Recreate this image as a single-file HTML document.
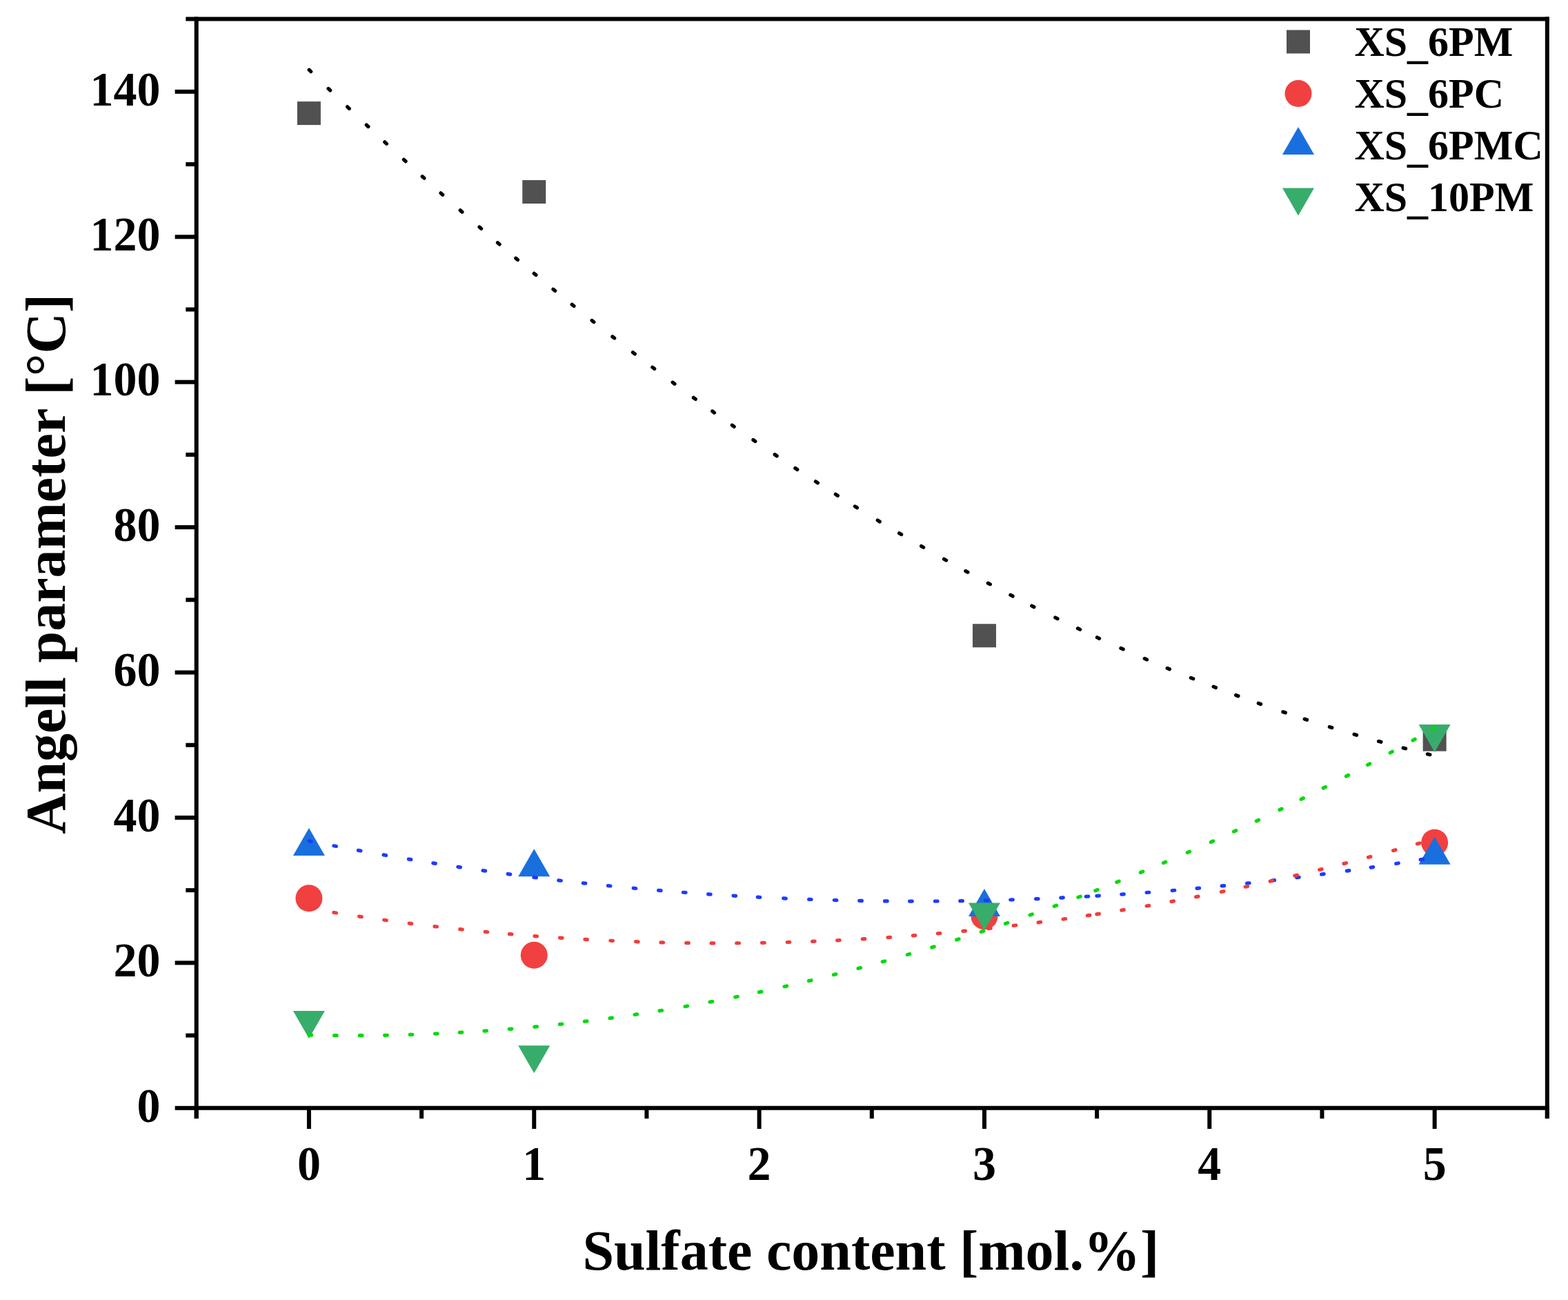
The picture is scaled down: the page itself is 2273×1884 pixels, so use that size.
<!DOCTYPE html>
<html><head><meta charset="utf-8"><title>Angell parameter vs sulfate content</title>
<style>html,body{margin:0;padding:0;background:#fff;overflow:hidden;}svg{display:block;}</style>
</head><body>
<svg width="2273" height="1884" viewBox="0 0 2273 1884">
<rect width="2273" height="1884" fill="#fff"/>
<rect x="430.90" y="147.11" width="34" height="34" fill="#515151"/>
<rect x="757.25" y="261.05" width="34" height="34" fill="#515151"/>
<rect x="1409.95" y="904.20" width="34" height="34" fill="#515151"/>
<rect x="2062.65" y="1054.65" width="34" height="34" fill="#515151"/>
<circle cx="447.90" cy="1301.85" r="19.5" fill="#F14040"/>
<circle cx="774.25" cy="1384.23" r="19.5" fill="#F14040"/>
<circle cx="1426.95" cy="1327.73" r="19.5" fill="#F14040"/>
<circle cx="2079.65" cy="1221.15" r="19.5" fill="#F14040"/>
<polygon points="447.90,1199.96 470.90,1239.96 424.90,1239.96" fill="#1A6FDF"/>
<polygon points="774.25,1230.15 797.25,1270.15 751.25,1270.15" fill="#1A6FDF"/>
<polygon points="1426.95,1288.12 1449.95,1328.12 1403.95,1328.12" fill="#1A6FDF"/>
<polygon points="2079.65,1212.79 2102.65,1252.79 2056.65,1252.79" fill="#1A6FDF"/>
<polygon points="424.90,1465.06 470.90,1465.06 447.90,1505.06" fill="#37AD6B"/>
<polygon points="751.25,1515.35 797.25,1515.35 774.25,1555.35" fill="#37AD6B"/>
<polygon points="1403.95,1308.50 1449.95,1308.50 1426.95,1348.50" fill="#37AD6B"/>
<polygon points="2056.65,1049.90 2102.65,1049.90 2079.65,1089.90" fill="#37AD6B"/>
<path d="M447.90,101.01 Q1263.78,899.69 2079.65,1095.31" fill="none" stroke="#000000" stroke-width="5.2" stroke-linecap="round" stroke-dasharray="3.60 35.31 3.60 34.65 3.60 34.41 3.60 32.81 3.60 33.95 3.60 32.64 3.60 32.42 3.60 34.06 3.60 33.30 3.60 31.23 3.60 31.02 3.60 30.82 3.60 32.43 3.60 31.43 3.60 33.52 3.60 34.17 3.60 33.80 3.60 32.06 3.60 32.96 3.60 33.96 3.60 29.91 3.60 31.55 3.60 33.64 3.60 34.24 3.60 32.02 3.60 31.68 3.60 30.82 3.60 29.44 3.60 34.98 3.60 32.87 3.60 33.45 3.60 34.36 3.60 32.18 3.60 33.22 3.60 33.33 3.60 30.98 3.60 34.46 3.60 32.68 3.60 27.19 3.60 34.38 3.60 33.84 3.60 32.11 3.60 33.43 3.60 31.52 3.60 31.16 3.60 31.16 3.60 34.08 3.60 29.38 3.60 34.37 3.60 33.67 3.60 33.20 3.60 33.36 3.60 32.80 3.60 9999.00" stroke-dashoffset="-0.30"/>
<path d="M447.90,1218.78 Q1263.78,1380.66 2079.65,1242.40" fill="none" stroke="#1E3AFF" stroke-width="5.2" stroke-linecap="round" stroke-dasharray="3.60 33.27 3.60 32.51 3.60 33.68 3.60 33.12 3.60 32.36 3.60 32.92 3.60 32.98 3.60 32.84 3.60 34.41 3.60 32.56 3.60 32.12 3.60 32.70 3.60 33.37 3.60 32.94 3.60 32.41 3.60 32.59 3.60 32.97 3.60 31.65 3.60 33.94 3.60 33.23 3.60 33.12 3.60 32.91 3.60 33.20 3.60 32.50 3.60 33.20 3.60 32.80 3.60 33.21 3.60 32.51 3.60 33.22 3.60 32.63 3.60 32.85 3.60 12.13 3.60 32.37 3.60 32.89 3.60 33.62 3.60 32.34 3.60 32.67 3.60 33.00 3.60 33.03 3.60 32.36 3.60 32.70 3.60 33.44 3.60 31.61 3.60 33.38 3.60 32.26 3.60 9999.00" stroke-dashoffset="0.27"/>
<path d="M447.90,1316.62 Q1263.78,1453.98 2079.65,1215.61" fill="none" stroke="#F03C3C" stroke-width="5.2" stroke-linecap="round" stroke-dasharray="3.60 33.52 3.60 33.52 3.60 32.96 3.60 33.12 3.60 33.47 3.60 33.43 3.60 32.99 3.60 31.75 3.60 33.12 3.60 33.04 3.60 32.87 3.60 33.40 3.60 33.08 3.60 32.87 3.60 33.11 3.60 32.85 3.60 33.10 3.60 33.15 3.60 33.01 3.60 32.82 3.60 32.43 3.60 33.15 3.60 33.17 3.60 32.80 3.60 32.53 3.60 33.26 3.60 33.20 3.60 33.20 3.60 32.63 3.60 32.83 3.60 31.97 3.60 10.06 3.60 32.75 3.60 33.32 3.60 32.77 3.60 32.64 3.60 33.93 3.60 31.96 3.60 33.26 3.60 33.04 3.60 33.22 3.60 32.84 3.60 32.88 3.60 33.95 3.60 32.65 3.60 9999.00" stroke-dashoffset="0.73"/>
<path d="M447.90,1499.99 Q1263.78,1518.72 2079.65,1055.13" fill="none" stroke="#00DA0A" stroke-width="5.2" stroke-linecap="round" stroke-dasharray="3.60 32.90 3.60 33.20 3.60 32.80 3.60 32.91 3.60 32.73 3.60 32.15 3.60 32.17 3.60 32.81 3.60 33.25 3.60 32.99 3.60 32.64 3.60 33.40 3.60 32.76 3.60 32.83 3.60 34.02 3.60 32.99 3.60 33.69 3.60 31.84 3.60 33.98 3.60 32.65 3.60 33.48 3.60 33.18 3.60 32.99 3.60 33.84 3.60 33.34 3.60 34.00 3.60 33.93 3.60 33.28 3.60 34.27 3.60 33.84 3.60 33.36 3.60 23.09 3.60 29.85 3.60 33.66 3.60 32.20 3.60 34.43 3.60 33.73 3.60 32.80 3.60 32.74 3.60 33.58 3.60 31.19 3.60 32.47 3.60 33.65 3.60 31.57 3.60 33.56 3.60 33.86 3.60 30.25 3.60 9999.00" stroke-dashoffset="-0.10"/>
<g stroke="#000" stroke-width="6.0" stroke-linecap="butt"><line x1="269.32" y1="27.40" x2="2245.83" y2="27.40"/><line x1="284.72" y1="24.40" x2="284.72" y2="1621.10"/><line x1="2242.83" y1="24.40" x2="2242.83" y2="1621.10"/><line x1="281.72" y1="1605.80" x2="2245.83" y2="1605.80"/><line x1="253.62" y1="1605.80" x2="284.72" y2="1605.80"/><line x1="269.32" y1="1500.59" x2="284.72" y2="1500.59"/><line x1="253.62" y1="1395.38" x2="284.72" y2="1395.38"/><line x1="269.32" y1="1290.17" x2="284.72" y2="1290.17"/><line x1="253.62" y1="1184.96" x2="284.72" y2="1184.96"/><line x1="269.32" y1="1079.75" x2="284.72" y2="1079.75"/><line x1="253.62" y1="974.54" x2="284.72" y2="974.54"/><line x1="269.32" y1="869.33" x2="284.72" y2="869.33"/><line x1="253.62" y1="764.12" x2="284.72" y2="764.12"/><line x1="269.32" y1="658.91" x2="284.72" y2="658.91"/><line x1="253.62" y1="553.70" x2="284.72" y2="553.70"/><line x1="269.32" y1="448.49" x2="284.72" y2="448.49"/><line x1="253.62" y1="343.28" x2="284.72" y2="343.28"/><line x1="269.32" y1="238.07" x2="284.72" y2="238.07"/><line x1="253.62" y1="132.86" x2="284.72" y2="132.86"/><line x1="284.72" y1="1605.80" x2="284.72" y2="1621.10"/><line x1="447.90" y1="1605.80" x2="447.90" y2="1636.00"/><line x1="611.08" y1="1605.80" x2="611.08" y2="1621.10"/><line x1="774.25" y1="1605.80" x2="774.25" y2="1636.00"/><line x1="937.42" y1="1605.80" x2="937.42" y2="1621.10"/><line x1="1100.60" y1="1605.80" x2="1100.60" y2="1636.00"/><line x1="1263.78" y1="1605.80" x2="1263.78" y2="1621.10"/><line x1="1426.95" y1="1605.80" x2="1426.95" y2="1636.00"/><line x1="1590.12" y1="1605.80" x2="1590.12" y2="1621.10"/><line x1="1753.30" y1="1605.80" x2="1753.30" y2="1636.00"/><line x1="1916.47" y1="1605.80" x2="1916.47" y2="1621.10"/><line x1="2079.65" y1="1605.80" x2="2079.65" y2="1636.00"/><line x1="2242.83" y1="1605.80" x2="2242.83" y2="1621.10"/></g>
<g font-family='"Liberation Serif","Times New Roman",serif' font-weight="bold" font-size="68" fill="#000"><text x="232.6" y="1625.60" text-anchor="end" transform="matrix(1,0,0,1.025,0,-40.640)">0</text><text x="232.6" y="1415.18" text-anchor="end" transform="matrix(1,0,0,1.025,0,-35.379)">20</text><text x="232.6" y="1204.76" text-anchor="end" transform="matrix(1,0,0,1.025,0,-30.119)">40</text><text x="232.6" y="994.34" text-anchor="end" transform="matrix(1,0,0,1.025,0,-24.858)">60</text><text x="232.6" y="783.92" text-anchor="end" transform="matrix(1,0,0,1.025,0,-19.598)">80</text><text x="232.6" y="573.50" text-anchor="end" transform="matrix(1,0,0,1.025,0,-14.337)">100</text><text x="232.6" y="363.08" text-anchor="end" transform="matrix(1,0,0,1.025,0,-9.077)">120</text><text x="232.6" y="152.66" text-anchor="end" transform="matrix(1,0,0,1.025,0,-3.816)">140</text><text x="447.90" y="1710.0" text-anchor="middle" transform="matrix(1,0,0,1.025,0,-42.750)">0</text><text x="774.25" y="1710.0" text-anchor="middle" transform="matrix(1,0,0,1.025,0,-42.750)">1</text><text x="1100.60" y="1710.0" text-anchor="middle" transform="matrix(1,0,0,1.025,0,-42.750)">2</text><text x="1426.95" y="1710.0" text-anchor="middle" transform="matrix(1,0,0,1.025,0,-42.750)">3</text><text x="1753.30" y="1710.0" text-anchor="middle" transform="matrix(1,0,0,1.025,0,-42.750)">4</text><text x="2079.65" y="1710.0" text-anchor="middle" transform="matrix(1,0,0,1.025,0,-42.750)">5</text></g>
<text x="1262.3" y="1839.5" text-anchor="middle" font-family='"Liberation Serif","Times New Roman",serif' font-weight="bold" font-size="82">Sulfate content [mol.%]</text>
<text transform="translate(94,817.4) rotate(-90)" x="0" y="0" text-anchor="middle" font-family='"Liberation Serif","Times New Roman",serif' font-weight="bold" font-size="82">Angell parameter [°C]</text>
<rect x="1865.00" y="43.50" width="34" height="34" fill="#515151"/>
<text x="1963.4" y="80.70" transform="matrix(1,0,0,1.025,0,-2.017)" font-family='"Liberation Serif","Times New Roman",serif' font-weight="bold" font-size="60">XS<tspan dy="2.9">_</tspan><tspan dy="-2.9">6PM</tspan></text>
<circle cx="1882.00" cy="135.60" r="19.5" fill="#F14040"/>
<text x="1963.4" y="155.80" transform="matrix(1,0,0,1.025,0,-3.895)" font-family='"Liberation Serif","Times New Roman",serif' font-weight="bold" font-size="60">XS<tspan dy="2.9">_</tspan><tspan dy="-2.9">6PC</tspan></text>
<polygon points="1882.00,184.03 1905.00,224.03 1859.00,224.03" fill="#1A6FDF"/>
<text x="1963.4" y="230.90" transform="matrix(1,0,0,1.025,0,-5.772)" font-family='"Liberation Serif","Times New Roman",serif' font-weight="bold" font-size="60">XS<tspan dy="2.9">_</tspan><tspan dy="-2.9">6PMC</tspan></text>
<polygon points="1859.00,272.47 1905.00,272.47 1882.00,312.47" fill="#37AD6B"/>
<text x="1963.4" y="306.00" transform="matrix(1,0,0,1.025,0,-7.650)" font-family='"Liberation Serif","Times New Roman",serif' font-weight="bold" font-size="60">XS<tspan dy="2.9">_</tspan><tspan dy="-2.9">10PM</tspan></text>
</svg>
</body></html>
